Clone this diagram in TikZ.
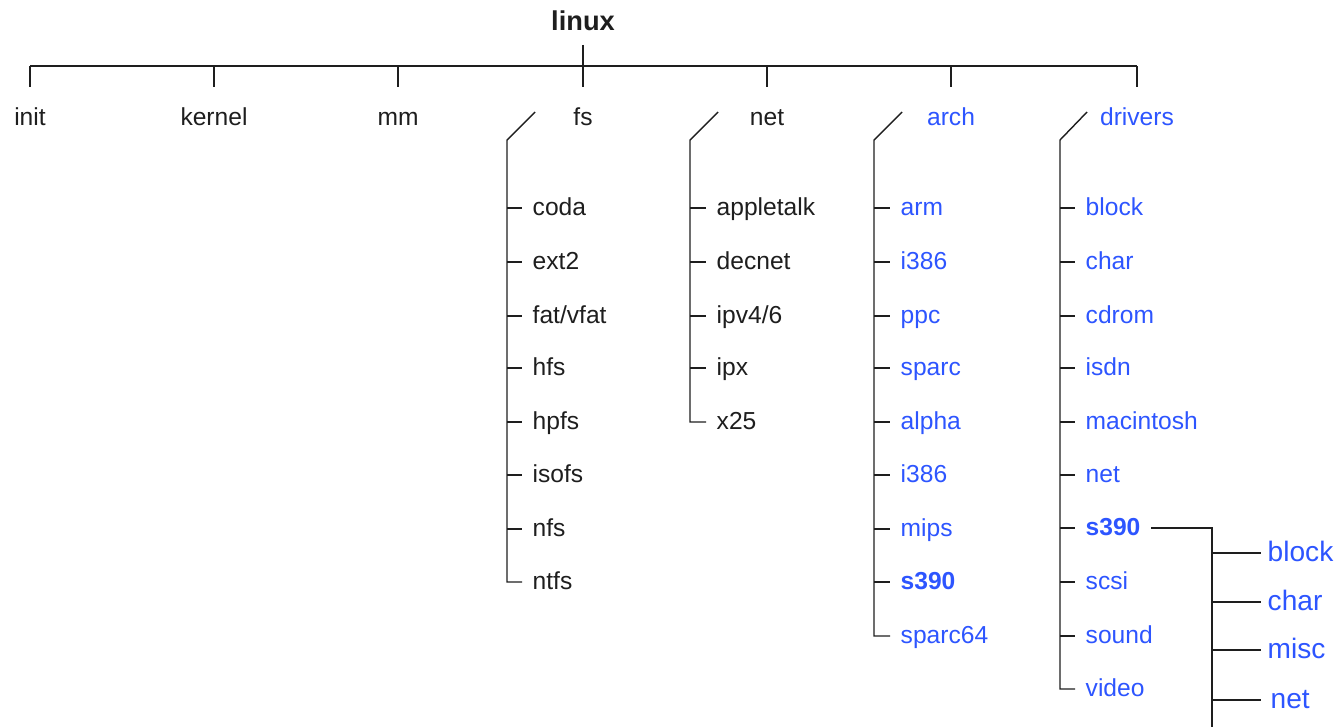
\documentclass[tikz,border=0pt]{standalone}
\usepackage{fontspec}
\setmainfont{Liberation Sans}
\usepackage{tikz}
\usetikzlibrary{positioning}
\definecolor{ink}{RGB}{30,30,30}
\definecolor{srcblue}{RGB}{45,85,255}

\begin{document}
\begin{tikzpicture}[x=0.02cm,y=-0.02cm,color=ink,line width=0.8pt,
    dirnode/.style={font=\fontsize{14}{16}\selectfont,text height=11pt,text depth=2.5pt,inner xsep=2pt,inner ysep=10.75pt},
    leaf/.style={anchor=west,font=\fontsize{14}{16}\selectfont,text height=11pt,text depth=2.5pt,inner xsep=0.2cm,inner ysep=0pt},
    subleaf/.style={leaf,inner xsep=0.12cm,font=\fontsize{16}{19}\selectfont,text height=12.5pt,text depth=3pt},
    srcdir/.style={text=srcblue}]
\useasboundingbox (0,0) rectangle (1337,727);

% root and first level
\node[font=\bfseries\fontsize{15.5}{18}\selectfont,text height=11pt,text depth=3pt,inner ysep=5pt] 
    (linux) at (583,23) {linux};
\coordinate (bus) at (0,66);
\node[dirnode] (init) at (30,118) {init};
\node[dirnode] (kernel) at (214,118) {kernel};
\node[dirnode] (mm) at (398,118) {mm};
\node[dirnode] (fs) at (583,118) {fs};
\node[dirnode] (netdir) at (767,118) {net};
\node[dirnode,srcdir] (arch) at (951,118) {arch};
\node[dirnode,srcdir] (drivers) at (1137,118) {drivers};

\draw (linux) -- (linux |- bus);
\draw (init |- bus) -- (drivers |- bus);
\draw (init |- bus) -- (init) (kernel |- bus) -- (kernel) (mm |- bus) -- (mm) (fs |- bus) -- (fs)
      (netdir |- bus) -- (netdir) (arch |- bus) -- (arch) (drivers |- bus) -- (drivers);

% fs
\node[leaf] (coda) at (522,208) {coda};
\node[leaf] (ext2) at (522,262) {ext2};
\node[leaf] (fat) at (522,316) {fat/vfat};
\node[leaf] (hfs) at (522,368) {hfs};
\node[leaf] (hpfs) at (522,422) {hpfs};
\node[leaf] (isofs) at (522,475) {isofs};
\node[leaf] (nfs) at (522,529) {nfs};
\node[leaf] (ntfs) at (522,582) {ntfs};
\coordinate (fs-a) at (535,112);
\coordinate (fs-b) at (507,140);
\draw (fs-a) -- (fs-b) -- (fs-b |- ntfs) -- (ntfs);
\draw (fs-b |- coda) -- (coda) (fs-b |- ext2) -- (ext2) (fs-b |- fat) -- (fat) (fs-b |- hfs) -- (hfs)
      (fs-b |- hpfs) -- (hpfs) (fs-b |- isofs) -- (isofs) (fs-b |- nfs) -- (nfs);

% net
\node[leaf] (appletalk) at (706,208) {appletalk};
\node[leaf] (decnet) at (706,262) {decnet};
\node[leaf] (ipv) at (706,316) {ipv4/6};
\node[leaf] (ipx) at (706,368) {ipx};
\node[leaf] (x25) at (706,422) {x25};
\coordinate (net-a) at (718,112);
\coordinate (net-b) at (690,140);
\draw (net-a) -- (net-b) -- (net-b |- x25) -- (x25);
\draw (net-b |- appletalk) -- (appletalk) (net-b |- decnet) -- (decnet) (net-b |- ipv) -- (ipv)
      (net-b |- ipx) -- (ipx);

% arch
\node[leaf,srcdir] (arm) at (890,208) {arm};
\node[leaf,srcdir] (i386a) at (890,262) {i386};
\node[leaf,srcdir] (ppc) at (890,316) {ppc};
\node[leaf,srcdir] (sparc) at (890,368) {sparc};
\node[leaf,srcdir] (alpha) at (890,422) {alpha};
\node[leaf,srcdir] (i386b) at (890,475) {i386};
\node[leaf,srcdir] (mips) at (890,529) {mips};
\node[leaf,srcdir,font=\bfseries\fontsize{14}{16}\selectfont] (s390a) at (890,582) {s390};
\node[leaf,srcdir] (sparc64) at (890,636) {sparc64};
\coordinate (arch-a) at (902,112);
\coordinate (arch-b) at (874,140);
\draw (arch-a) -- (arch-b) -- (arch-b |- sparc64) -- (sparc64);
\draw (arch-b |- arm) -- (arm) (arch-b |- i386a) -- (i386a) (arch-b |- ppc) -- (ppc) (arch-b |- sparc) -- (sparc)
      (arch-b |- alpha) -- (alpha) (arch-b |- i386b) -- (i386b) (arch-b |- mips) -- (mips) (arch-b |- s390a) -- (s390a);

% drivers
\node[leaf,srcdir] (block) at (1075,208) {block};
\node[leaf,srcdir] (char) at (1075,262) {char};
\node[leaf,srcdir] (cdrom) at (1075,316) {cdrom};
\node[leaf,srcdir] (isdn) at (1075,368) {isdn};
\node[leaf,srcdir] (macintosh) at (1075,422) {macintosh};
\node[leaf,srcdir] (netdrv) at (1075,475) {net};
\node[leaf,srcdir,font=\bfseries\fontsize{14}{16}\selectfont] (s390) at (1075,528) {s390};
\node[leaf,srcdir] (scsi) at (1075,582) {scsi};
\node[leaf,srcdir] (sound) at (1075,636) {sound};
\node[leaf,srcdir] (video) at (1075,689) {video};
\coordinate (drv-a) at (1087,112);
\coordinate (drv-b) at (1060,140);
\draw (drv-a) -- (drv-b) -- (drv-b |- video) -- (video);
\draw (drv-b |- block) -- (block) (drv-b |- char) -- (char) (drv-b |- cdrom) -- (cdrom) (drv-b |- isdn) -- (isdn)
      (drv-b |- macintosh) -- (macintosh) (drv-b |- netdrv) -- (netdrv) (drv-b |- s390) -- (s390)
      (drv-b |- scsi) -- (scsi) (drv-b |- sound) -- (sound);

% drivers/s390
\node[subleaf,srcdir] (sblock) at (1261,553) {block};
\node[subleaf,srcdir] (schar) at (1261,602) {char};
\node[subleaf,srcdir] (smisc) at (1261,650) {misc};
\node[subleaf,srcdir] (snet) at (1264,700) {net};
\coordinate (sub-top) at (1212,528);
\coordinate (sub-end) at (1212,727);
\draw (s390) -- (sub-top) -- (sub-end);
\draw (sub-top |- sblock) -- (sblock) (sub-top |- schar) -- (schar) (sub-top |- smisc) -- (smisc)
      (sub-top |- snet) -- (snet.west -| sblock.west);
\end{tikzpicture}
\end{document}
